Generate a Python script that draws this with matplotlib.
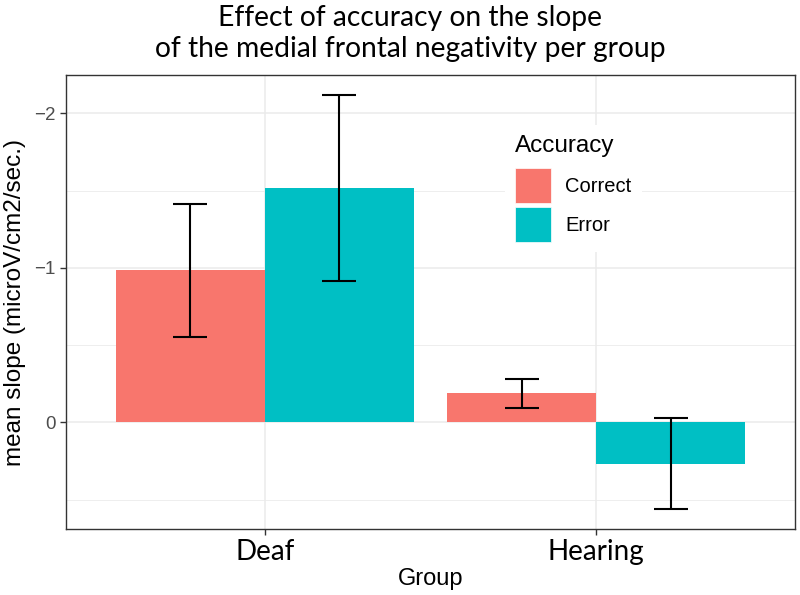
import numpy as np
import matplotlib
matplotlib.use("Agg")
import matplotlib.pyplot as plt
from matplotlib.patches import Patch
from matplotlib.ticker import FixedLocator

# ---------------------------------------------------------------------------
# Data
# ---------------------------------------------------------------------------
groups = ["Deaf", "Hearing"]
accuracy = ["Correct", "Error"]
mean_correct = [-0.985, -0.188]
mean_error = [-1.516, 0.268]
se_correct = [0.43, 0.095]
se_error = [0.60, 0.294]
y_ticks = [-2, -1, 0]
y_minor = [-1.5, -0.5, 0.5]

COLORS = {"Correct": "#F8766D", "Error": "#00BFC4"}
GRID = "#EBEBEB"
SANS = ["Liberation Sans", "DejaVu Sans"]
TITLE_FONT = ["Lato", "DejaVu Sans"]

W, H = 800, 595
fig = plt.figure(figsize=(W / 100, H / 100), dpi=100)
ax = fig.add_axes([66 / W, (H - 529) / H, 729 / W, 454 / H])

x = np.arange(1, len(groups) + 1)
bar_w = 0.45
series = [(mean_correct, se_correct, "Correct", -bar_w / 2),
          (mean_error, se_error, "Error", bar_w / 2)]

for means, ses, name, off in series:
    ax.bar(x + off, means, width=bar_w, color=COLORS[name], zorder=2)
    ax.errorbar(x + off, means, yerr=ses, fmt="none", ecolor="black",
                elinewidth=1.5, capsize=12, capthick=1.5, zorder=3)

# axes, grid
ax.set_xlim(0.4, 2.6)
ax.set_ylim(0.69, -2.248)  # reversed: negative values go up
ax.set_xticks(x)
ax.set_xticklabels(groups, fontsize=20, family=TITLE_FONT)
ax.set_yticks(y_ticks)
ax.set_yticklabels(["\u22122", "\u22121", "0"], fontsize=13.5, family=SANS,
                   color="#4D4D4D")
ax.yaxis.set_minor_locator(FixedLocator(y_minor))
ax.tick_params(axis="both", which="major", length=4, width=1, color="#333333")
ax.tick_params(axis="y", which="minor", length=0)
ax.tick_params(axis="x", pad=3)
ax.grid(True, which="major", color=GRID, linewidth=1.1, zorder=0)
ax.grid(True, which="minor", axis="y", color=GRID, linewidth=0.6, zorder=0)
ax.set_axisbelow(True)
for s in ax.spines.values():
    s.set_edgecolor("#333333")
    s.set_linewidth(1.0)

ax.set_xlabel("Group", fontsize=17, family=SANS, labelpad=2)
ax.set_ylabel("mean slope (microV/cm2/sec.)", fontsize=17.5, family=SANS,
              labelpad=6)

fig.text(410 / W, 1 - 5 / H,
         "Effect of accuracy on the slope\nof the medial frontal negativity per group",
         ha="center", va="top", fontsize=20.3, family=TITLE_FONT, linespacing=1.25)

# legend
handles = [Patch(facecolor=COLORS[a], edgecolor="white", linewidth=0.5, label=a)
           for a in accuracy]
leg = ax.legend(handles=handles, title="Accuracy", loc="upper left",
                bbox_to_anchor=(505 / W, 1 - 125 / H),
                bbox_transform=fig.transFigure, frameon=True, fancybox=False,
                edgecolor="none", facecolor="white", framealpha=1,
                prop={"family": SANS, "size": 14.5},
                title_fontproperties={"family": SANS, "size": 17.5},
                handlelength=1.79, handleheight=2.3, labelspacing=0.2,
                handletextpad=0.7, borderaxespad=0, borderpad=0.5)
leg._legend_box.align = "left"
leg._legend_box.sep = 8  # extra gap between legend title and keys

fig.savefig("out.png", dpi=100)
